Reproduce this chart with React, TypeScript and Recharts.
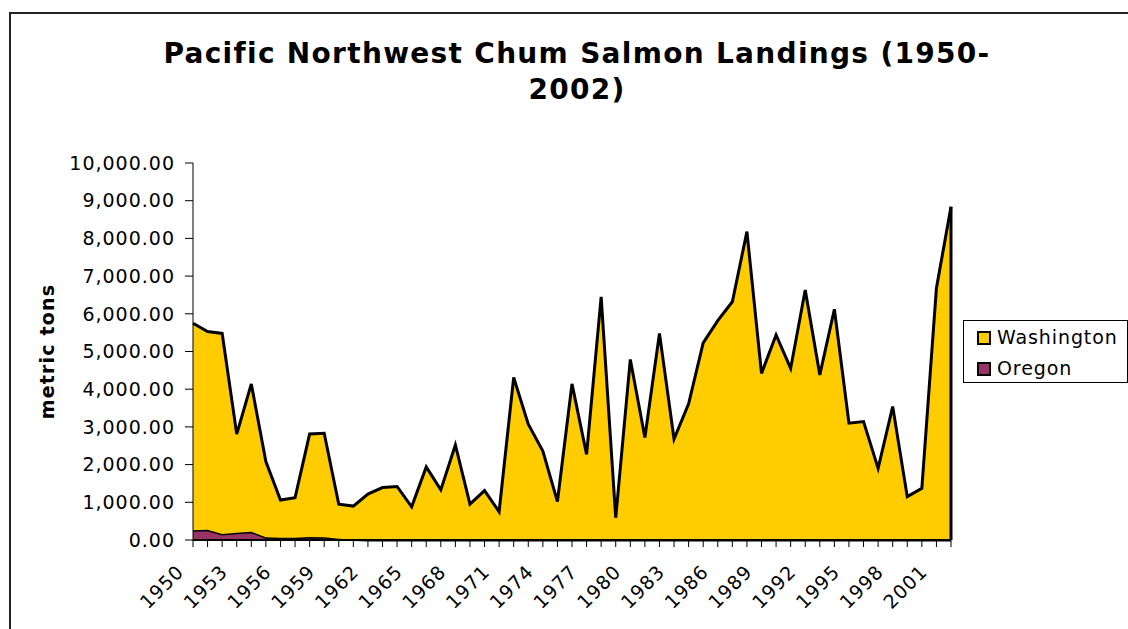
import { Area, AreaChart, ReferenceLine, XAxis, YAxis } from "recharts";

const years = [
  "1950", "1951", "1952", "1953", "1954", "1955", "1956", "1957", "1958", "1959",
  "1960", "1961", "1962", "1963", "1964", "1965", "1966", "1967", "1968", "1969",
  "1970", "1971", "1972", "1973", "1974", "1975", "1976", "1977", "1978", "1979",
  "1980", "1981", "1982", "1983", "1984", "1985", "1986", "1987", "1988", "1989",
  "1990", "1991", "1992", "1993", "1994", "1995", "1996", "1997", "1998", "1999",
  "2000", "2001", "2002",
];

const washington = [
  5490, 5260, 5320, 2620, 3920, 2010, 1000, 1060, 2730, 2760,
  920, 890, 1220, 1390, 1420, 880, 1940, 1330, 2520, 950,
  1310, 750, 4310, 3070, 2360, 1020, 4140, 2270, 6450, 590,
  4790, 2720, 5480, 2680, 3610, 5230, 5820, 6320, 8180, 4420,
  5440, 4550, 6630, 4380, 6120, 3100, 3140, 1900, 3540, 1150,
  1370, 6680, 8840,
];

const oregon = [
  260, 270, 160, 190, 220, 70, 60, 60, 80, 70,
  30, 10, 0, 0, 0, 0, 0, 0, 0, 0,
  0, 0, 0, 0, 0, 0, 0, 0, 0, 0,
  0, 0, 0, 0, 0, 0, 0, 0, 0, 0,
  0, 0, 0, 0, 0, 0, 0, 0, 0, 0,
  0, 0, 0,
];

const yTicks = [0, 1000, 2000, 3000, 4000, 5000, 6000, 7000, 8000, 9000, 10000];
const labelEvery = 3;

const WA_COLOR = "#FFCC00";
const OR_COLOR = "#993366";
const FONT = "'DejaVu Sans', Verdana, sans-serif";

const data = years.map((year, i) => ({
  year,
  Oregon: oregon[i],
  Washington: washington[i],
}));

const last = data[data.length - 1];

function YearTick(props: any) {
  const { x, y, payload, index } = props;
  if (index % labelEvery !== 0) return <g />;
  const tx = x - 8;
  const ty = y + 24;
  return (
    <text
      x={tx}
      y={ty}
      textAnchor="end"
      fontSize={19}
      letterSpacing={1}
      fontFamily={FONT}
      fill="#000"
      transform={`rotate(-45 ${tx} ${ty})`}
    >
      {payload.value}
    </text>
  );
}

function LegendBox() {
  const items = [
    { name: "Washington", color: WA_COLOR },
    { name: "Oregon", color: OR_COLOR },
  ];
  return (
    <div
      style={{
        position: "absolute",
        left: 963,
        top: 320,
        width: 165,
        height: 63,
        border: "1px solid #000",
        background: "#fff",
        padding: "1px 0 0 13px",
        fontFamily: FONT,
        fontSize: 19,
        letterSpacing: 0.9,
        lineHeight: "31px",
        boxSizing: "border-box",
        whiteSpace: "nowrap",
      }}
    >
      {items.map((it) => (
        <div key={it.name} style={{ display: "flex", alignItems: "center" }}>
          <span
            style={{
              display: "inline-block",
              width: 10,
              height: 10,
              background: it.color,
              border: "2px solid #000",
              marginRight: 6,
            }}
          />
          {it.name}
        </div>
      ))}
    </div>
  );
}

export default function App() {
  return (
    <div
      style={{
        position: "absolute",
        left: 0,
        top: 0,
        width: 1128,
        height: 629,
        overflow: "hidden",
        background: "#fff",
      }}
    >
      <div
        style={{
          position: "absolute",
          left: 9,
          top: 12,
          width: 1200,
          height: 700,
          border: "2px solid #222",
        }}
      />
      <div
        style={{
          position: "absolute",
          left: 0,
          top: 36,
          width: 1154,
          textAlign: "center",
          fontFamily: FONT,
          fontWeight: "bold",
          fontSize: 28,
          letterSpacing: 1.3,
          lineHeight: "36px",
        }}
      >
        Pacific Northwest Chum Salmon Landings (1950-
        <br />
        2002)
      </div>
      <div style={{ position: "absolute", left: 0, top: 0 }}>
        <AreaChart
          width={1128}
          height={629}
          data={data}
          margin={{ top: 163, right: 177, left: 43, bottom: 29 }}
        >
          <XAxis
            dataKey="year"
            interval={0}
            tick={<YearTick />}
            tickSize={7}
            tickLine={{ stroke: "#000" }}
            axisLine={{ stroke: "#000", strokeWidth: 2 }}
            height={60}
          />
          <YAxis
            domain={[0, 10000]}
            ticks={yTicks}
            interval={0}
            width={150}
            tickSize={8}
            tickMargin={10}
            tickLine={{ stroke: "#000" }}
            axisLine={{ stroke: "#000" }}
            tick={{ fontSize: 19, fontFamily: FONT, fill: "#000", letterSpacing: 1 }}
            tickFormatter={(v: number) =>
              v.toLocaleString("en-US", { minimumFractionDigits: 2, maximumFractionDigits: 2 })
            }
            label={{
              value: "metric tons",
              angle: -90,
              position: "insideLeft",
              offset: 4,
              style: {
                fontSize: 19,
                fontWeight: "bold",
                letterSpacing: 1.2,
                fontFamily: FONT,
                fill: "#000",
                textAnchor: "middle",
              },
            }}
          />
          <Area
            type="linear"
            dataKey="Oregon"
            stackId="total"
            fill={OR_COLOR}
            fillOpacity={1}
            stroke="#000"
            strokeWidth={3}
            isAnimationActive={false}
          />
          <Area
            type="linear"
            dataKey="Washington"
            stackId="total"
            fill={WA_COLOR}
            fillOpacity={1}
            stroke="#000"
            strokeWidth={3}
            isAnimationActive={false}
          />
          <ReferenceLine
            segment={[
              { x: last.year, y: 0 },
              { x: last.year, y: last.Oregon + last.Washington },
            ]}
            stroke="#000"
            strokeWidth={3}
          />
        </AreaChart>
      </div>
      <LegendBox />
    </div>
  );
}
